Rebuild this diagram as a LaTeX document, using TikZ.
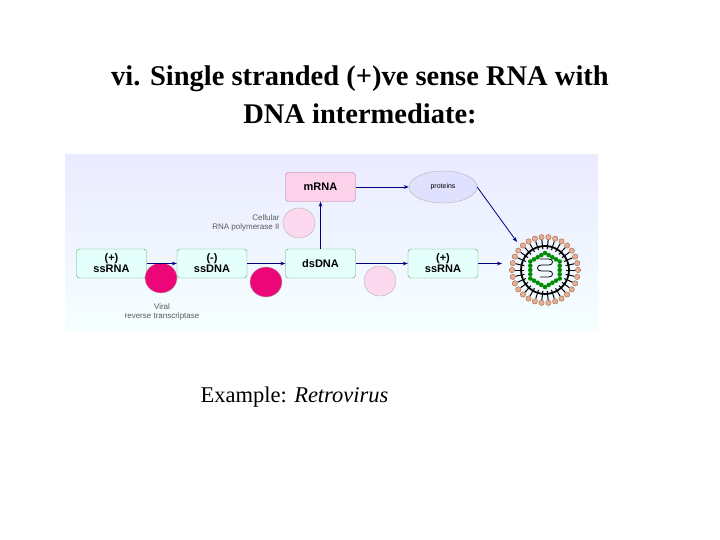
\documentclass[tikz,border=0pt]{standalone}
\usepackage{fontspec}
\setmainfont{Liberation Serif}
\newfontfamily\ar{Liberation Sans}
\usetikzlibrary{shapes.geometric,arrows.meta,calc}
\begin{document}
\begin{tikzpicture}[x=1pt,y=-1pt,
  box/.style={draw=gray!70!green, fill=green!12!cyan!10, rounded corners=3pt, minimum width=70pt, minimum height=29pt, font=\ar\bfseries\fontsize{11}{11}\selectfont, align=center, inner sep=0pt},
  pbox/.style={box, fill=magenta!18, draw=gray!70!magenta},
  enz/.style={draw=gray!60, ellipse, minimum width=32pt, minimum height=30pt, inner sep=0pt},
  arr/.style={draw=blue!50!black, -{Stealth[length=5pt]}, line width=0.8pt},
  small/.style={font=\ar\fontsize{8}{9}\selectfont, text=gray!70!black}]
\useasboundingbox (0,0) rectangle (720,540);
\fill[top color=blue!8, bottom color=cyan!4] (65,155) rectangle (598,331);
\node[font=\bfseries\fontsize{28.5}{38}\selectfont, align=center] (title) at (360,95) {vi. Single stranded (+)ve sense RNA with\\DNA intermediate:};
\node[box] (r1) at (111.5,263.5) {(+)\\ssRNA};
\node[box] (d1) at (212,263.5) {(-)\\ssDNA};
\node[box] (ds) at (320.5,263.5) {dsDNA};
\node[box] (r2) at (443,263.5) {(+)\\ssRNA};
\node[pbox] (m) at (320.5,187) {mRNA};
\node[draw=gray!60, fill=blue!12, ellipse, minimum width=68pt, minimum height=32pt, font=\ar\fontsize{7}{7}\selectfont, inner sep=0pt] (p) at (443,187) {proteins};
\node[enz, fill=magenta!80!red] (e1) at (161,278) {};
\node[enz, fill=magenta!80!red] (e2) at (266,282) {};
\node[enz, fill=magenta!15] (e3) at (380,281) {};
\node[enz, fill=magenta!15] (e4) at (299,223) {};
\node[small, align=right, anchor=east] (t1) at (283,223) {Cellular\\RNA polymerase II};
\node[small, align=center] (t2) at (162,312) {Viral\\reverse transcriptase};
\coordinate (v) at (545,270);
\foreach \a in {0,12,...,359} {
  \draw[line width=1pt] (v) ++(\a:21) -- ++(\a:9);
  \fill[red!30!brown!50, draw=brown!70!black, line width=0.3pt] (v) ++(\a:33) circle (2.7);
}
\draw[line width=1.8pt] (v) circle (24);
\foreach \a in {30,90,...,330} {
  \foreach \t in {0,0.25,0.5,0.75} {
    \fill[green!55!black] ({545+17*((1-\t)*cos(\a)+\t*cos(\a+60))},{270+17*((1-\t)*sin(\a)+\t*sin(\a+60))}) circle (2.3);
  }
}
\draw[line width=0.8pt] (540,259) -- (549,259) to[out=0,in=0,looseness=2] (549,265) -- (541,265) to[out=180,in=180,looseness=2] (541,271) -- (549,271) to[out=0,in=0,looseness=2] (549,277) -- (540,277);
\node[font=\fontsize{22.5}{27}\selectfont, anchor=west] (ex) at (197,397) {Example: \textit{Retrovirus}};
\draw[arr] (r1) -- (d1);
\draw[arr] (d1) -- (ds);
\draw[arr] (ds) -- (r2);
\draw[arr] (ds) -- (m);
\draw[arr] (m) -- (p);
\draw[arr] (p.east) -- (517,242);
\draw[arr] (r2) -- (502,263.5);
\end{tikzpicture}
\end{document}
